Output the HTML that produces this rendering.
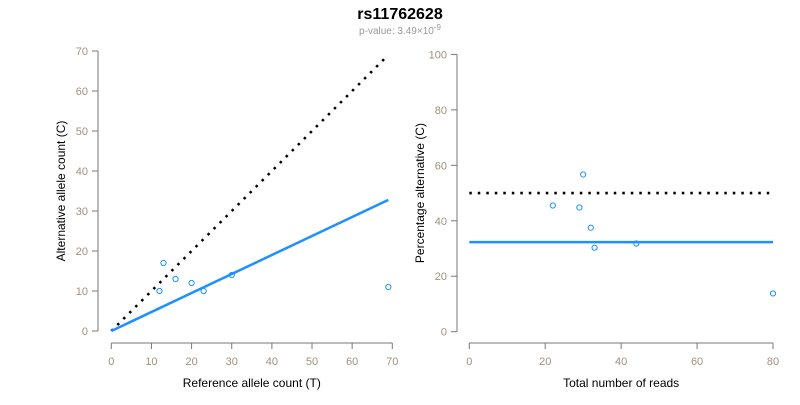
<!DOCTYPE html>
<html><head><meta charset="utf-8"><style>
body{margin:0;background:#fff;}
svg text{font-family:"Liberation Sans",Arial,sans-serif;}
</style></head><body>
<svg id="c" width="800" height="400" xmlns="http://www.w3.org/2000/svg">
<text x="400" y="19" text-anchor="middle" font-size="16" font-weight="bold" fill="#000">rs11762628</text>
<text x="400" y="34" text-anchor="middle" font-size="10" fill="#999">p-value: 3.49×10<tspan dy="-4" font-size="8">-9</tspan></text>
<g id="left"></g>
<g id="right"></g>
</svg>
<script>
const refCounts=[12,13,16,20,23,30,69];
const altCounts=[10,17,13,12,10,14,11];
const leftXTicks=[0,10,20,30,40,50,60,70];
const leftYTicks=[0,10,20,30,40,50,60,70];
const fitSlope=[0.475];
const totalReads=[22,30,29,32,33,44,80];
const pctAlt=[45.5,56.7,44.8,37.5,30.3,31.8,13.8];
const rightXTicks=[0,20,40,60,80];
const rightYTicks=[0,20,40,60,80,100];
const fitPct=[32.3];
const nullPct=[50];

const NS="http://www.w3.org/2000/svg";
function mk(parent,tag,attrs){const e=document.createElementNS(NS,tag);for(const k in attrs)e.setAttribute(k,attrs[k]);parent.appendChild(e);return e;}
const tickCol="#a09080",axCol="#777";

function axes(g,sx,sy,xt,yt,xr,yr,xLab,yLab,x0,y0){
  const xa=mk(g,'g',{});
  
  mk(xa,'line',{x1:sx(xt[0]),x2:sx(xt[xt.length-1]),y1:y0,y2:y0,stroke:axCol});
  xt.forEach(t=>{mk(xa,'line',{x1:sx(t),x2:sx(t),y1:y0,y2:y0+6,stroke:axCol});
    const tx=mk(xa,'text',{x:sx(t),y:y0+22,'text-anchor':'middle','font-size':11,fill:tickCol});tx.textContent=t;
    });
  const ya=mk(g,'g',{});
  
  mk(ya,'line',{x1:x0,x2:x0,y1:sy(yt[0]),y2:sy(yt[yt.length-1]),stroke:axCol});
  yt.forEach(t=>{mk(ya,'line',{x1:x0,x2:x0-6,y1:sy(t),y2:sy(t),stroke:axCol});
    const tx=mk(ya,'text',{x:x0-10,y:sy(t)+4,'text-anchor':'end','font-size':11,fill:tickCol});tx.textContent=t;
    });
  const xl=mk(g,'text',{x:(sx(xr[0])+sx(xr[1]))/2,y:y0+44,'text-anchor':'middle','font-size':12,fill:'#000'});xl.textContent=xLab;
  
  const cy=(sy(yr[0])+sy(yr[1]))/2,cx=x0-33;
  const yl=mk(g,'text',{x:cx,y:cy,'text-anchor':'middle','font-size':12,fill:'#000',transform:`rotate(-90 ${cx} ${cy})`});yl.textContent=yLab;
  
}
// left
const L=document.getElementById('left');
const lx=v=>111.3+v*(392.3-111.3)/70, ly=v=>331-v*4;
axes(L,lx,ly,leftXTicks,leftYTicks,[0,70],[0,70],'Reference allele count (T)','Alternative allele count (C)',98,343);
const maxRef=Math.max(...refCounts);
let d=mk(L,'line',{x1:lx(0),y1:ly(0),x2:lx(maxRef),y2:ly(maxRef),stroke:'#000','stroke-width':2.6,'stroke-dasharray':'2.5 6'});

d=mk(L,'line',{x1:lx(0),y1:ly(0),x2:lx(maxRef),y2:ly(maxRef*fitSlope[0]),stroke:'#1e90ff','stroke-width':2.5});

refCounts.forEach((r,i)=>{const c=mk(L,'circle',{cx:lx(r),cy:ly(altCounts[i]),r:2.6,fill:'none',stroke:'#1e90ff','stroke-width':1});
  });
// right
const R=document.getElementById('right');
const rx=v=>469.3+v*(773-469.3)/80, ry=v=>331.7-v*2.773;
axes(R,rx,ry,rightXTicks,rightYTicks,[0,80],[0,100],'Total number of reads','Percentage alternative (C)',457,343);
d=mk(R,'line',{x1:rx(0),y1:ry(nullPct[0]),x2:rx(79),y2:ry(nullPct[0]),stroke:'#000','stroke-width':2.6,'stroke-dasharray':'2.5 6'});

d=mk(R,'line',{x1:rx(0),y1:ry(fitPct[0]),x2:rx(80),y2:ry(fitPct[0]),stroke:'#1e90ff','stroke-width':2.5});

totalReads.forEach((t,i)=>{const c=mk(R,'circle',{cx:rx(t),cy:ry(pctAlt[i]),r:2.6,fill:'none',stroke:'#1e90ff','stroke-width':1});
  });
</script>
</body></html>
